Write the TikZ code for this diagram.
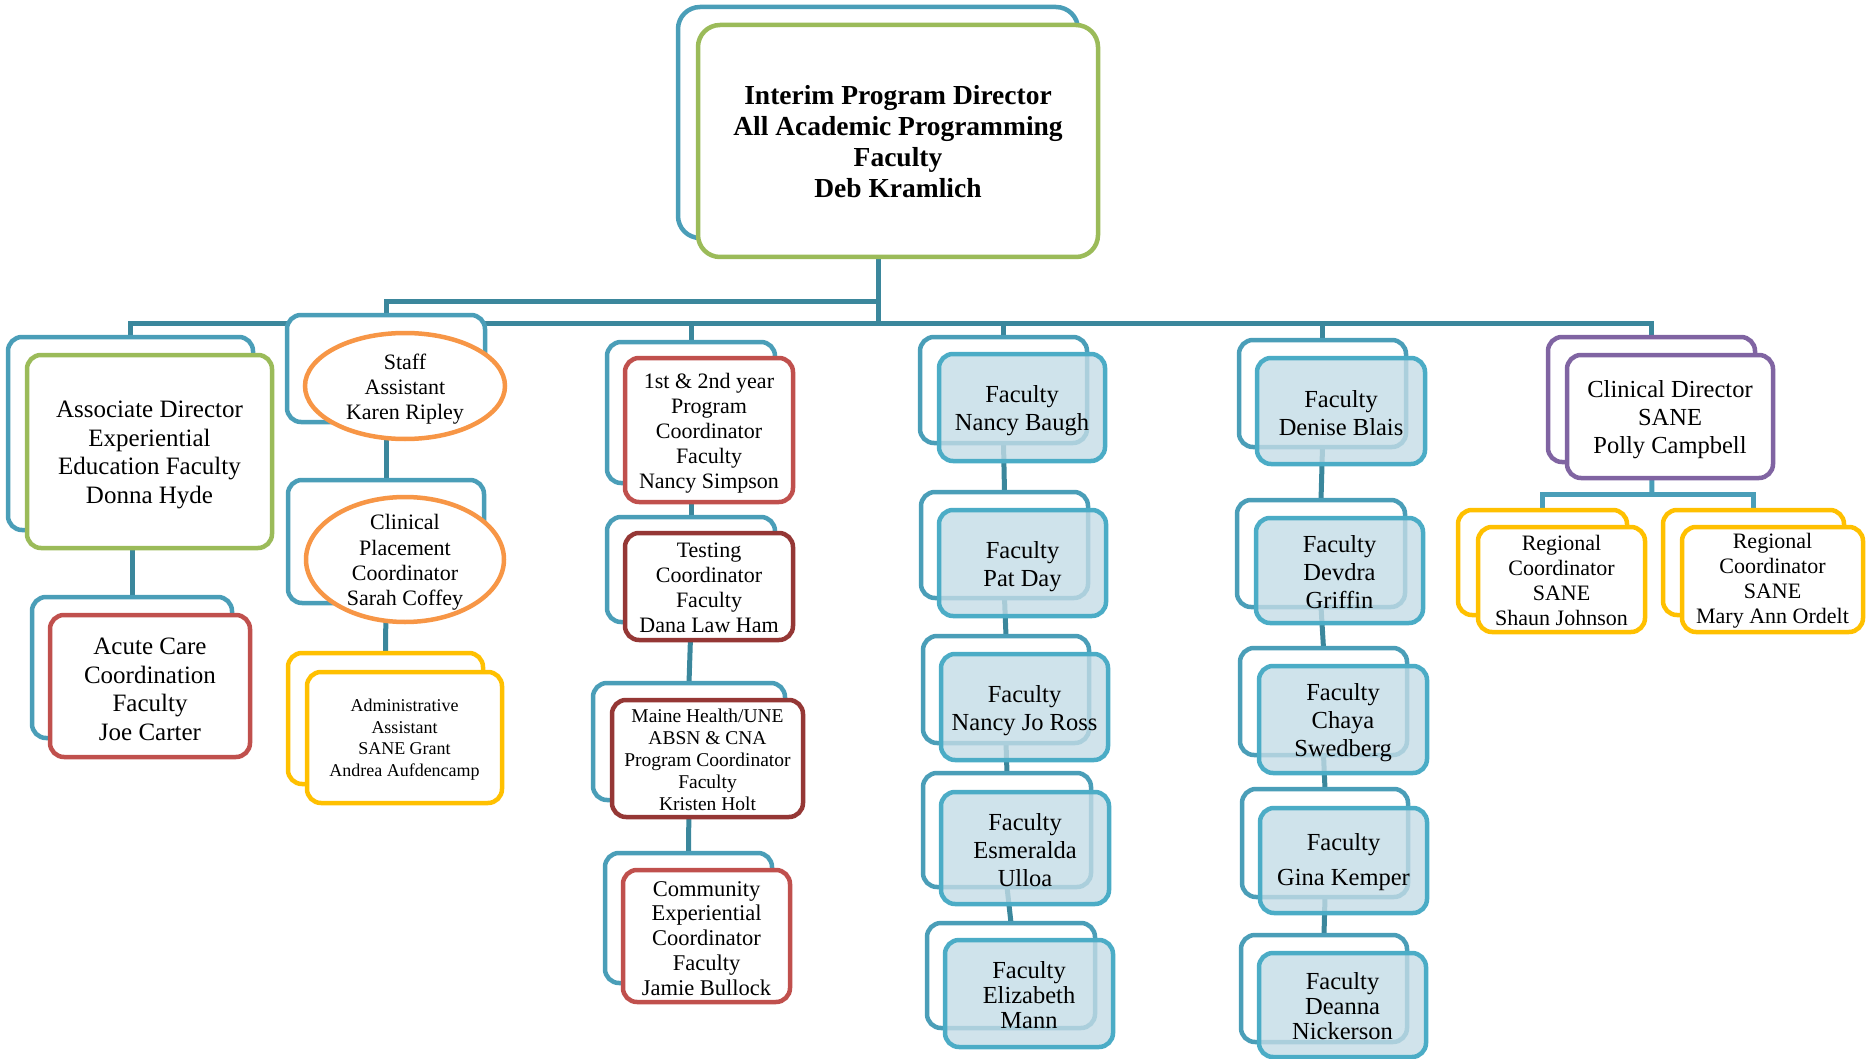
\documentclass[tikz,border=0pt]{standalone}
\usepackage{fontspec}
\setmainfont{Liberation Serif}
\usetikzlibrary{shapes.geometric}
\definecolor{tealb}{HTML}{4A9EB8}
\definecolor{tealc}{HTML}{3B879C}
\definecolor{gr}{HTML}{9BBB59}
\definecolor{rd}{HTML}{C0504D}
\definecolor{drd}{HTML}{953735}
\definecolor{org}{HTML}{F79646}
\definecolor{yl}{HTML}{FFC000}
\definecolor{pu}{HTML}{8064A2}
\definecolor{fb}{HTML}{4BACC6}
\definecolor{ff}{HTML}{C4DCE6}
\pgfdeclarelayer{bg}
\pgfsetlayers{bg,main}
\tikzset{
 box/.style={rectangle, rounded corners=14pt, line width=4.5pt, fill=white, inner sep=0pt, outer sep=0pt},
 backbox/.style={box, draw=tealb},
 fac/.style={box, draw=fb, fill=ff, fill opacity=0.8},
 txt/.style={align=center, inner sep=0pt, outer sep=0pt},
 oval/.style={ellipse, draw=org, fill=white, line width=4.5pt, inner sep=0pt, outer sep=0pt},
 conn/.style={draw=tealc, line width=5pt},
 fA/.style={font=\fontsize{25}{28.5}\selectfont},
 fB/.style={font=\fontsize{22}{25}\selectfont},
 fF/.style={font=\fontsize{24.5}{28}\selectfont},
 fG/.style={font=\fontsize{24.5}{25}\selectfont},
}
% back box: name, style, left, top, right, bottom
\newcommand\bk[6]{\node[#2, minimum width={#5-#3}, minimum height={#6-#4}] (#1) at ({(#3+#5)/2},{(#4+#6)/2}) {};}
% front box with text: name, style, l, t, r, b, text style, text
\newcommand\bx[8]{\node[#2, minimum width={#5-#3}, minimum height={#6-#4}] (#1) at ({(#3+#5)/2},{(#4+#6)/2}) {};
\node[txt, #7] (#1T) at ([yshift=-3.2pt]#1.center) {#8};}
\begin{document}
\begin{tikzpicture}[x=1pt,y=-1pt]
\useasboundingbox (0,0) rectangle (1868,1059);
% top
\bk{topB}{backbox, rounded corners=22pt}{678}{7}{1078}{238}
\bx{top}{box, draw=gr, rounded corners=22pt}{698}{25}{1098}{257}{font=\bfseries\fontsize{27.5}{31}\selectfont, yshift=2.4pt}{Interim Program Director\\All Academic Programming\\Faculty\\Deb Kramlich}
% associate director column
\bk{adB}{backbox}{8}{337}{253}{530}
\bx{ad}{box, draw=gr}{27}{355}{272}{548}{fA}{Associate Director\\Experiential\\Education Faculty\\Donna Hyde}
\bk{acB}{backbox}{32}{597}{232}{738}
\bx{ac}{box, draw=rd}{50}{615}{250}{757}{fA}{Acute Care\\Coordination\\Faculty\\Joe Carter}
% staff column
\bk{saB}{backbox}{287}{315}{485}{422}
\node[oval, minimum width=200, minimum height=106] (sa) at (405,386) {};
\node[txt, fB] (saT) at ([yshift=-3pt]sa.center) {Staff\\Assistant\\Karen Ripley};
\bk{cpB}{backbox}{288}{480}{484}{603}
\node[oval, minimum width=198, minimum height=125] (cp) at (405,559.5) {};
\node[txt, font=\fontsize{22}{25.3}\selectfont] (cpT) at ([yshift=-3pt]cp.center) {Clinical\\Placement\\Coordinator\\Sarah Coffey};
\bk{aaB}{box, draw=yl}{288}{653}{483}{784}
\bx{aa}{box, draw=yl}{307}{672}{502}{803}{font=\fontsize{18}{21.7}\selectfont, yshift=1pt}{Administrative\\Assistant\\SANE Grant\\Andrea Aufdencamp}
% coordinators column
\bk{nsB}{backbox}{607}{342}{775}{483}
\bx{ns}{box, draw=rd}{625}{358}{793}{502}{fB}{1st \& 2nd year\\Program\\Coordinator\\Faculty\\Nancy Simpson}
\bk{tcB}{backbox}{607}{517}{775}{622}
\bx{tc}{box, draw=drd}{625}{533}{793}{640}{fB, yshift=2pt}{Testing\\Coordinator\\Faculty\\Dana Law Ham}
\bk{mhB}{backbox}{593}{683}{785}{800}
\bx{mh}{box, draw=drd}{612}{700}{803}{817}{font=\fontsize{19.5}{22}\selectfont, yshift=2pt}{Maine Health/UNE\\ABSN \& CNA\\Program Coordinator\\Faculty\\Kristen Holt}
\bk{ceB}{backbox}{605}{853}{772}{983}
\bx{ce}{box, draw=rd}{623}{870}{790}{1002}{font=\fontsize{22.5}{24.75}\selectfont, yshift=1pt}{Community\\Experiential\\Coordinator\\Faculty\\Jamie Bullock}
% faculty column 1
\bk{nbB}{backbox}{920}{337}{1087}{443}
\bx{nb}{fac}{939}{354}{1105}{461}{fF}{Faculty\\Nancy Baugh}
\bk{pdB}{backbox}{921}{492}{1088}{598}
\bx{pd}{fac}{939}{510}{1106}{616}{fF}{Faculty\\Pat Day}
\bk{nrB}{backbox}{923}{636}{1089}{743}
\bx{nr}{fac}{941}{654}{1108}{760}{fF}{Faculty\\Nancy Jo Ross}
\bk{euB}{backbox}{923}{773}{1091}{887}
\bx{eu}{fac}{941}{792}{1109}{904}{fF, yshift=1.5pt}{Faculty\\Esmeralda\\Ulloa}
\bk{emB}{backbox}{927}{923}{1095}{1028}
\bx{em}{fac}{945}{940}{1113}{1047}{fG, yshift=2pt}{Faculty\\Elizabeth\\Mann}
% faculty column 2
\bk{dbB}{backbox}{1239}{340}{1406}{447}
\bx{db}{fac}{1257}{358}{1425}{464}{fF, yshift=1pt}{Faculty\\Denise Blais}
\bk{dgB}{backbox}{1237}{500}{1405}{607}
\bx{dg}{fac}{1256}{518}{1423}{623}{fF, yshift=1.5pt}{Faculty\\Devdra\\Griffin}
\bk{csB}{backbox}{1240}{648}{1407}{755}
\bx{cs}{fac}{1259}{666}{1427}{773}{fF}{Faculty\\Chaya\\Swedberg}
\bk{gkB}{backbox}{1242}{789}{1408}{897}
\bx{gk}{fac}{1260}{808}{1427}{913}{fF, yshift=1.5pt}{Faculty\\[7pt]Gina Kemper}
\bk{dnB}{backbox}{1241}{935}{1407}{1042}
\bx{dn}{fac}{1259}{953}{1426}{1057}{fG, yshift=2pt}{Faculty\\Deanna\\Nickerson}
% SANE column
\bk{cdB}{box, draw=pu}{1548}{337}{1755}{462}
\bx{cd}{box, draw=pu}{1567}{355}{1773}{478}{fF}{Clinical Director\\SANE\\Polly Campbell}
\bk{sjB}{box, draw=yl}{1458}{510}{1627}{615}
\bx{sj}{box, draw=yl}{1478}{527}{1645}{632}{fB, yshift=2pt}{Regional\\Coordinator\\SANE\\Shaun Johnson}
\bk{moB}{box, draw=yl}{1663}{510}{1844}{615}
\bx{mo}{box, draw=yl}{1682}{527}{1863}{632}{fB, yshift=2pt}{Regional\\Coordinator\\SANE\\Mary Ann Ordelt}
% connectors
\coordinate (bus) at (880,323);
\coordinate (bus2) at (880,301);
\coordinate (rbus) at (1652,494);
\begin{pgfonlayer}{bg}
\draw[conn] (topB.south) -- (topB.south |- bus);
\draw[conn] (adB.north) -- (adB.north |- bus) -- (cdB.north |- bus) -- (cdB.north);
\draw[conn] (nsB.north) -- (nsB.north |- bus);
\draw[conn] (nbB.north) -- (nbB.north |- bus);
\draw[conn] (dbB.north) -- (dbB.north |- bus);
\draw[conn] (topB.south |- bus2) -- (saB.north |- bus2) -- (saB.north);
\draw[conn] (acB.north |- adB.south) -- (acB.north);
\draw[conn] (saB.south) -- (cpB.north);
\draw[conn] (cpB.south) -- (aaB.north);
\draw[conn] (nsB.south) -- (tcB.north);
\draw[conn] (tcB.south) -- (mhB.north);
\draw[conn] (mhB.south) -- (ceB.north);
\draw[conn] (nbB.south) -- (pdB.north);
\draw[conn] (pdB.south) -- (nrB.north);
\draw[conn] (nrB.south) -- (euB.north);
\draw[conn] (euB.south) -- (emB.north);
\draw[conn] (dbB.south) -- (dgB.north);
\draw[conn] (dgB.south) -- (csB.north);
\draw[conn] (csB.south) -- (gkB.north);
\draw[conn] (gkB.south) -- (dnB.north);
\draw[conn, draw=tealb] (cdB.south) -- (rbus);
\draw[conn, draw=tealb] (sjB.north) -- (sjB.north |- rbus) -- (moB.north |- rbus) -- (moB.north);
\end{pgfonlayer}
\end{tikzpicture}
\end{document}
